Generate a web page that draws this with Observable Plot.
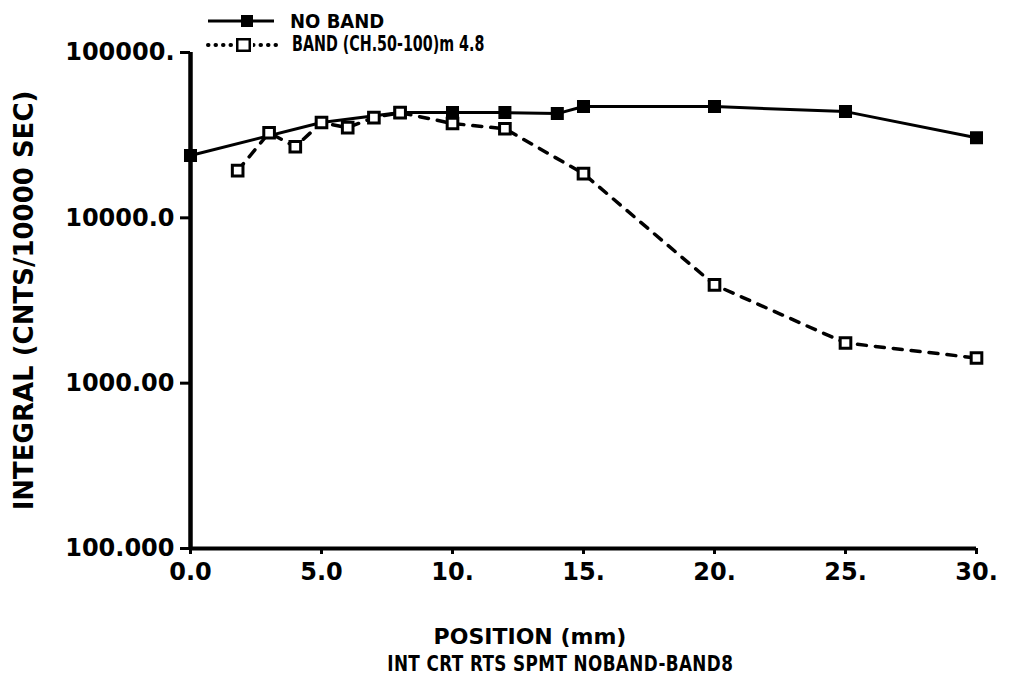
<!DOCTYPE html>
<html><head><meta charset="utf-8">
<script src="https://cdn.jsdelivr.net/npm/d3@7"></script>
<script src="https://cdn.jsdelivr.net/npm/@observablehq/plot@0.6"></script>
<style>
body{margin:0;background:#fff;}
#wrap{position:relative;width:1009px;height:685px;font-family:"DejaVu Sans",sans-serif;font-weight:bold;color:#000;background:#fff;overflow:hidden;}
.ov{position:absolute;white-space:nowrap;line-height:1;}
.leg{display:flex;align-items:center;font-size:20px;}
.leg svg{display:block;margin-right:12px;}
.cond{display:inline-block;transform-origin:left center;}
</style></head><body><div id="wrap"></div>
<script>
// ---- data ----
const seriesNames = ["NO BAND", "BAND (CH.50-100)m 4.8"];
const positionsNoBand = [0, 5, 8, 10, 12, 14, 15, 20, 25, 30];
const countsNoBand = [23800, 37700, 43300, 43300, 43300, 42700, 47100, 47100, 43900, 30500];
const positionsBand = [1.8, 3, 4, 5, 6, 7, 8, 10, 12, 15, 20, 25, 30];
const countsBand = [19300, 32700, 26900, 37700, 35100, 40400, 43300, 37200, 34600, 18500, 3930, 1750, 1420];
const xTicks = [0, 5, 10, 15, 20, 25, 30];
const xTickLabels = ["0.0", "5.0", "10.", "15.", "20.", "25.", "30."];
const yTicks = [100, 1000, 10000, 100000];
const yTickLabels = ["100.000", "1000.00", "10000.0", "100000."];
const xLabel = "POSITION (mm)";
const yLabel = "INTEGRAL (CNTS/10000 SEC)";
const captionText = "INT CRT RTS SPMT NOBAND-BAND8";

const noBand = positionsNoBand.map((p, i) => ({position: p, count: countsNoBand[i]}));
const band = positionsBand.map((p, i) => ({position: p, count: countsBand[i]}));

const wrap = document.getElementById("wrap");
const font = "'DejaVu Sans', sans-serif";

const chart = Plot.plot({
  width: 1009, height: 685,
  marginLeft: 190, marginRight: 33, marginTop: 52, marginBottom: 137,
  style: {fontFamily: font, fontWeight: "bold", background: "white", color: "black", overflow: "visible"},
  x: {domain: [0, 30]},
  y: {type: "log", domain: [100, 100000]},
  marks: [
    Plot.axisY({ticks: yTicks, tickFormat: d => yTickLabels[yTicks.indexOf(d)], tickSize: 10, tickPadding: 6, strokeWidth: 3, fontSize: 24, label: null}),
    Plot.axisY({ticks: [], label: yLabel, labelAnchor: "center", labelArrow: "none", labelOffset: 176, fontSize: 26}),
    Plot.axisX({ticks: xTicks, tickFormat: d => xTickLabels[xTicks.indexOf(d)], tickSize: 6, tickPadding: 8, strokeWidth: 3, fontSize: 24, label: null}),
    Plot.ruleX([0], {strokeWidth: 4.5}),
    Plot.ruleY([100], {strokeWidth: 4}),
    Plot.line(band, {x: "position", y: "count", stroke: "black", strokeWidth: 3.5, strokeDasharray: "9,9"}),
    Plot.line(noBand, {x: "position", y: "count", stroke: "black", strokeWidth: 3}),
    Plot.dot(noBand, {x: "position", y: "count", symbol: "square", r: 6.5, fill: "black", stroke: "black", strokeWidth: 1.5}),
    Plot.dot(band, {x: "position", y: "count", symbol: "square", r: 6, fill: "white", stroke: "black", strokeWidth: 3})
  ]
});
wrap.appendChild(chart);

function overlay(html, left, top, cls, style) {
  const d = document.createElement("div");
  d.className = "ov " + (cls || "");
  d.style.left = left + "px"; d.style.top = top + "px";
  if (style) Object.assign(d.style, style);
  d.innerHTML = html;
  wrap.appendChild(d);
  return d;
}
// legend
const sw1 = `<svg width="72" height="20"><line x1="2" y1="10" x2="68" y2="10" stroke="black" stroke-width="3"/><rect x="35" y="4" width="12" height="12" fill="black"/></svg>`;
const sw2 = `<svg width="76" height="20"><line x1="4" y1="10" x2="74" y2="10" stroke="black" stroke-width="4" stroke-linecap="round" stroke-dasharray="0.5,7"/><rect x="33" y="4" width="13" height="12" fill="white" stroke="black" stroke-width="3"/><rect x="31" y="2" width="17" height="16" fill="none" stroke="white" stroke-width="2"/></svg>`;
overlay(sw1 + `<span class="cond" style="transform:scaleX(0.9)">${seriesNames[0]}</span>`, 206, 11, "leg");
overlay(sw2 + `<span class="cond" style="font-size:21px;transform:scaleX(0.68)">${seriesNames[1]}</span>`, 204, 34, "leg");
// x label and caption
overlay(xLabel, 0, 626, "", {fontSize: "22px", width: "1060px", textAlign: "center"});
overlay(`<span class="cond" style="transform-origin:center center;transform:scaleX(0.8)">${captionText}</span>`, 0, 654, "", {fontSize: "21px", width: "1120px", textAlign: "center", letterSpacing: "0.5px"});
</script></body></html>
